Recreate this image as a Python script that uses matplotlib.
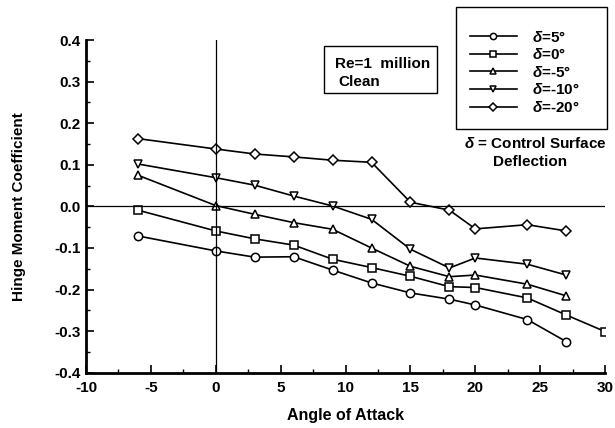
import numpy as np
import matplotlib.pyplot as plt
from matplotlib.patches import Rectangle

plt.rcParams['font.family'] = 'Liberation Sans'
plt.rcParams['font.weight'] = 'bold'
plt.rcParams['mathtext.fontset'] = 'custom'
plt.rcParams['mathtext.it'] = 'Liberation Sans:italic:bold'
plt.rcParams['mathtext.rm'] = 'Liberation Sans:bold'

# angle of attack, deg
alpha = [-6, 0, 3, 6, 9, 12, 15, 18, 20, 24, 27]
alpha_0 = [-6, 0, 3, 6, 9, 12, 15, 18, 20, 24, 27, 30]

# hinge moment coefficient for each flap deflection
ch_p5 = [-0.071, -0.107, -0.122, -0.121, -0.153, -0.184, -0.208, -0.223, -0.237, -0.272, -0.325]
ch_0 = [-0.009, -0.059, -0.078, -0.093, -0.127, -0.147, -0.168, -0.193, -0.195, -0.220, -0.261, -0.301]
ch_m5 = [0.075, 0.002, -0.019, -0.039, -0.055, -0.100, -0.144, -0.169, -0.165, -0.187, -0.215]
ch_m10 = [0.102, 0.069, 0.051, 0.025, 0.001, -0.031, -0.103, -0.148, -0.124, -0.139, -0.165]
ch_m20 = [0.163, 0.138, 0.126, 0.119, 0.111, 0.106, 0.010, -0.009, -0.054, -0.044, -0.059]

labels = [r'$\delta$=5°', r'$\delta$=0°', r'$\delta$=-5°', r'$\delta$=-10°', r'$\delta$=-20°']
yticks = [-0.4, -0.3, -0.2, -0.1, 0.0, 0.1, 0.2, 0.3, 0.4]
xticks = [-10, -5, 0, 5, 10, 15, 20, 25, 30]

fig = plt.figure(figsize=(6.15, 4.28), dpi=100)
ax = fig.add_axes([0.1398, 0.129, 0.8442, 0.7775])

series = [(alpha, ch_p5, 'o'), (alpha_0, ch_0, 's'), (alpha, ch_m5, '^'),
          (alpha, ch_m10, 'v'), (alpha, ch_m20, 'D')]
handles = []
for (x, y, m), lab in zip(series, labels):
    ms = 5.5 if m == 'D' else 6
    h, = ax.plot(x, y, color='black', lw=1.2, marker=m, ms=ms, mfc='white',
                 mec='black', mew=1.1, label=lab)
    handles.append(h)

ax.axhline(0, color='black', lw=0.9)
ax.axvline(0, color='black', lw=0.9)

ax.set_xlim(-10, 30)
ax.set_ylim(-0.4, 0.4)
ax.set_xticks(xticks)
ax.set_xticks(np.arange(-10, 31, 2.5), minor=True)
ax.set_yticks(yticks)
ax.set_yticks(np.arange(-0.4, 0.41, 0.05), minor=True)
ax.set_yticklabels(['%.1f' % v for v in yticks])
ax.set_xticklabels(['%d' % v for v in xticks])
ax.tick_params(direction='in', width=1.2, length=6, labelsize=11, pad=4)
ax.tick_params(axis='x', pad=6)
ax.tick_params(which='minor', direction='in', width=1, length=3)
ax.spines['top'].set_visible(False)
ax.spines['right'].set_visible(False)
ax.spines['left'].set_linewidth(2)
ax.spines['bottom'].set_linewidth(2)

ax.set_xlabel('Angle of Attack', fontsize=11.5, fontweight='bold', labelpad=9)
ax.set_ylabel('Hinge Moment Coefficient', fontsize=11, fontweight='bold', labelpad=20)

# Reynolds number box
fig.patches.append(Rectangle((324 / 615, 1 - 93 / 428), 113 / 615, 47 / 428,
                             transform=fig.transFigure, fill=False, ec='black', lw=1))
fig.text(335 / 615, 1 - 64 / 428, 'Re=1  million', fontsize=11, va='center')
fig.text(338 / 615, 1 - 82 / 428, 'Clean', fontsize=11, va='center')

# legend box
fig.patches.append(Rectangle((456 / 615, 1 - 129 / 428), 151 / 615, 122 / 428,
                             transform=fig.transFigure, fill=False, ec='black', lw=1))
fig.legend(handles=handles, loc='upper left', bbox_to_anchor=(462 / 615, 1 - 22 / 428),
           frameon=False, fontsize=11, markerscale=0.75, handlelength=3.1,
           labelspacing=0.17, handletextpad=1.0, borderpad=0)

fig.text(535 / 615, 1 - 143 / 428, r'$\delta$ = Control Surface', fontsize=11,
         ha='center', va='center')
fig.text(530 / 615, 1 - 162 / 428, 'Deflection', fontsize=11, ha='center', va='center')

fig.savefig('out.png', dpi=100)
